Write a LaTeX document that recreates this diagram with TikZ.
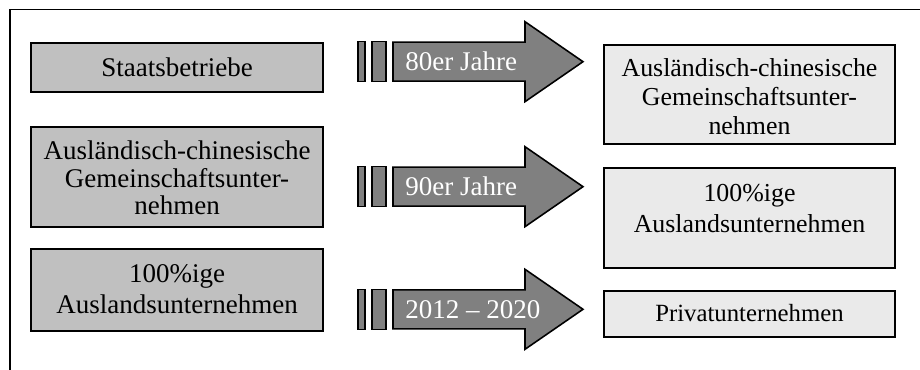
\documentclass[tikz,border=0pt]{standalone}
\usepackage{fontspec}
\setmainfont{Liberation Serif}
\usepackage{tikz}
\definecolor{cqcqcq}{rgb}{0.753,0.753,0.753}
\definecolor{ebebeb}{rgb}{0.918,0.918,0.918}
\definecolor{pfeilgrau}{rgb}{0.502,0.502,0.502}
\tikzset{
  linkskasten/.style={draw=black,line width=0.7pt,fill=cqcqcq},
  rechtskasten/.style={draw=black,line width=0.7pt,fill=ebebeb},
  kastentext/.style={align=center,inner sep=0pt,anchor=base,font=\fontsize{12}{13.8}\selectfont},
  balken/.style={draw=black,line width=0.7pt,fill=pfeilgrau},
  pfeiltext/.style={text=white,inner sep=0pt,anchor=base west,font=\fontsize{12}{14}\selectfont}
}

\begin{document}
\begin{tikzpicture}[line join=miter,x=0.4444pt,y=-0.4444pt]
  \useasboundingbox (0,0) rectangle (920,370);
  % Rahmen
  \draw [line width=0.7pt] (10,370) -- (10,9.5) -- (920,9.5);
  % links (anchor=base sitzt auf der letzten Zeile)
  \draw [linkskasten] (31,43) rectangle (323,92);
  \node [kastentext] (staat) at (177,77) {Staatsbetriebe};
  \draw [linkskasten] (31,127) rectangle (323,227);
  \node [kastentext,font=\fontsize{12}{12.4}\selectfont] (joint) at (177,215) {Ausländisch-chinesische\\Gemeinschaftsunter-\\nehmen};
  \draw [linkskasten] (31,249) rectangle (323,331);
  \node [kastentext] (wfoe) at (177,314) {100\%ige\\Auslandsunternehmen};
  % Pfeile
  \foreach \yc/\jahr/\nm in {61.7/80er Jahre/p80, 186.7/90er Jahre/p90, 309.3/2012 – 2020/p12}{
    \draw [balken] (358,\yc-20) rectangle (365,\yc+20);
    \draw [balken] (372,\yc-20) rectangle (386,\yc+20);
    \draw [balken] (393,\yc-19.5) -- (525,\yc-19.5) -- (525,\yc-40) -- (583,\yc) -- (525,\yc+40) -- (525,\yc+19.5) -- (393,\yc+19.5) -- cycle;
    \node [pfeiltext] (\nm) at (405,\yc+9) {\jahr};
  }
  % rechts
  \draw [rechtskasten] (604,45) rectangle (895,144);
  \node [kastentext,font=\fontsize{11.5}{13.1}\selectfont] (jointr) at (749.5,135) {Ausländisch-chinesische\\Gemeinschaftsunter-\\nehmen};
  \draw [rechtskasten] (604,168) rectangle (895,268);
  \node [kastentext,font=\fontsize{11.5}{13.8}\selectfont] (wfoer) at (749.5,233) {100\%ige\\Auslandsunternehmen};
  \draw [rechtskasten] (604,291) rectangle (895,337);
  \node [kastentext,font=\fontsize{11}{13}\selectfont] (privat) at (749.5,322) {Privatunternehmen};
\end{tikzpicture}
\end{document}
